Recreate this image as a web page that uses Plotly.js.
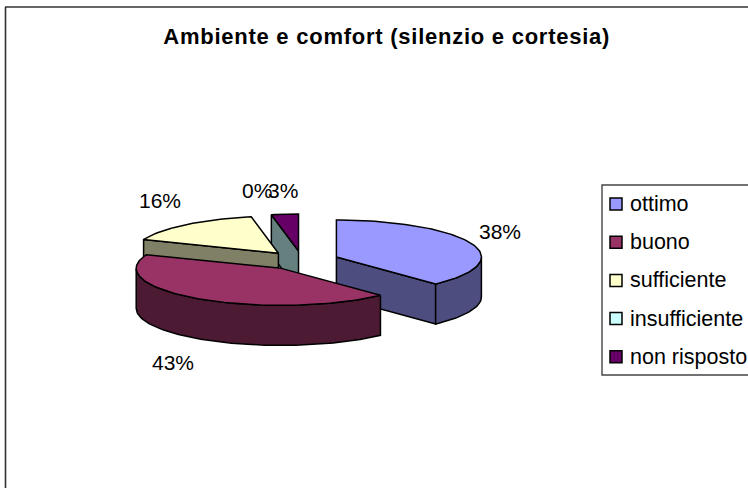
<!DOCTYPE html>
<html><head><meta charset="utf-8">
<script src="https://cdn.plot.ly/plotly-3.0.1.min.js"></script>
<style>html,body{margin:0;padding:0;background:#fff;overflow:hidden}#c{width:748px;height:488px}
.gtitle{letter-spacing:.75px}</style>
</head><body><div id="c"></div>
<script>
const titleText = 'Ambiente e comfort (silenzio e cortesia)';
const categories = ['ottimo','buono','sufficiente','insufficiente','non risposto'];
const values = [38,43,16,0,3];
const topColors = ['#9999FF','#993366','#FFFFCC','#CCFFFF','#660066'];
const sideColors = ['#4D4D80','#4D1A33','#808066','#668080','#330033'];
const labelTexts = ['38%','43%','16%','0%','3%'];

// drawing geometry (axis units = pixels of the picture)
const cx=302, cy=260.5, rx=145, ry=37, depth=40, pullX=37, pullY=9.5;
const labelX=[500,172.5,160,257,282.5], labelY=[231.5,362,200,190.5,190.5];
const drawOrder=[4,2,0,1];
const F='"Liberation Sans",Arial,sans-serif';

const total=values.reduce((a,b)=>a+b,0);
let acc=0;
const slices=values.map((v,i)=>{
  const s=acc/total*2*Math.PI; acc+=v; const e=acc/total*2*Math.PI; const m=(s+e)/2;
  return {i,s,e,ax:cx+pullX*Math.sin(m),ay:cy-pullY*Math.cos(m)};
});
const px=(sl,t)=>sl.ax+rx*Math.sin(t), py=(sl,t)=>sl.ay-ry*Math.cos(t);
function poly(xs,ys,fill,name){
  return {type:'scatter',mode:'lines',x:xs.concat(xs[0]),y:ys.concat(ys[0]),fill:'toself',fillcolor:fill,
    line:{color:'#000',width:1.5},hoverinfo:'skip',showlegend:false,name};
}
function radial(sl,t,color){
  const x1=px(sl,t),y1=py(sl,t);
  return poly([sl.ax,x1,x1,sl.ax],[sl.ay,y1,y1+depth,sl.ay+depth],color,categories[sl.i]);
}
function arcPts(sl,a,b){const n=Math.max(2,Math.ceil((b-a)/0.03));const xs=[],ys=[];
  for(let k=0;k<=n;k++){const t=a+(b-a)*k/n;xs.push(px(sl,t));ys.push(py(sl,t));}return [xs,ys];}

const traces=[];
drawOrder.forEach(idx=>{
  const sl=slices[idx];
  // start-edge wall: an empty slice just before this one lends its colour
  if(Math.sin(sl.s)<-1e-6){
    const prev=slices[idx-1];
    const col=(prev&&values[prev.i]===0)?sideColors[prev.i]:sideColors[idx];
    traces.push(radial(sl,sl.s,col));
  }
  if(Math.sin(sl.e)>1e-6) traces.push(radial(sl,sl.e,sideColors[idx]));
  const a=Math.max(sl.s,Math.PI/2), b=Math.min(sl.e,1.5*Math.PI);
  if(b>a){
    const [xs,ys]=arcPts(sl,a,b);
    traces.push(poly(xs.concat(xs.slice().reverse()),ys.concat(ys.slice().reverse().map(y=>y+depth)),sideColors[idx],categories[idx]));
  }
  const [xs,ys]=arcPts(sl,sl.s,sl.e);
  traces.push(poly([sl.ax].concat(xs),[sl.ay].concat(ys),topColors[idx],categories[idx]));
});

// legend rows
const legX=616, legTextX=630;
const rowY=categories.map((c,i)=>204+i*38.2);
traces.push({type:'scatter',mode:'markers',x:categories.map(()=>legX),y:rowY,
  marker:{symbol:'square',size:12,color:topColors,line:{color:'#000',width:1.5}},hoverinfo:'skip',showlegend:false});

const annotations=[];
labelTexts.forEach((t,i)=>annotations.push({x:labelX[i],y:labelY[i],xref:'x',yref:'y',text:t,showarrow:false,
  xanchor:'center',yanchor:'middle',font:{family:F,size:21,color:'#000'}}));
categories.forEach((c,i)=>annotations.push({x:legTextX,y:rowY[i],xref:'x',yref:'y',text:c,showarrow:false,
  xanchor:'left',yanchor:'middle',xshift:-2,font:{family:F,size:21.5,color:'#000'}}));

const line={color:'#333',width:1.6};
const shapes=[
 {type:'line',xref:'x',yref:'y',x0:5,x1:748,y0:7,y1:7,line},
 {type:'line',xref:'x',yref:'y',x0:5.5,x1:5.5,y0:7,y1:488,line},
 {type:'rect',xref:'x',yref:'y',x0:602,x1:770,y0:185,y1:375,line:{color:'#444',width:1.4},fillcolor:'#fff',layer:'below'}
];
Plotly.newPlot('c',traces,{
  width:748,height:488,margin:{l:0,r:0,t:0,b:0},paper_bgcolor:'#fff',plot_bgcolor:'#fff',showlegend:false,
  title:{text:'<b>'+titleText+'</b>',x:0.517,xanchor:'center',y:0.925,yanchor:'middle',font:{family:F,size:22,color:'#000'}},
  xaxis:{range:[0,748],visible:false,fixedrange:true},
  yaxis:{range:[488,0],visible:false,fixedrange:true},
  annotations,shapes
},{displayModeBar:false,staticPlot:true});
</script></body></html>
